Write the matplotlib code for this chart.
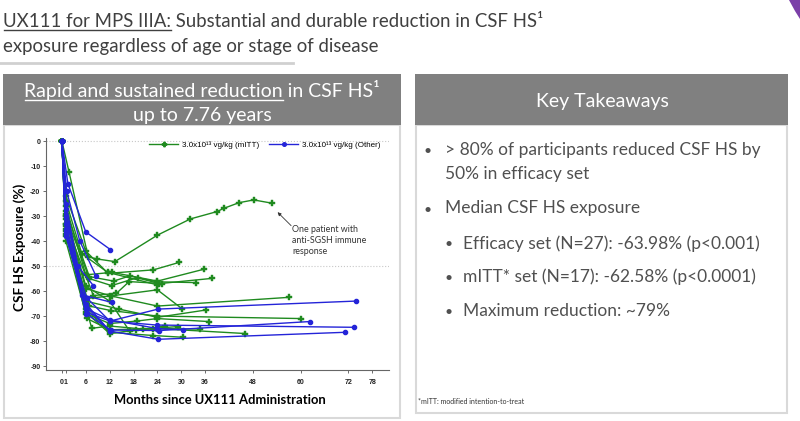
import matplotlib
matplotlib.use("Agg")
import matplotlib.pyplot as plt
from matplotlib.patches import Rectangle, Polygon
from matplotlib.lines import Line2D

W, H = 800, 421

# chart data (months since dosing, % change of CSF HS exposure)
mitt_months = [
    [0, 1.8, 6.6, 8.7, 13.3, 24, 32.3, 38.9, 40.8, 44.5, 48.2, 52.8],
    [0, 1, 6, 11.6, 23, 29.5],
    [0, 1, 6, 12.6, 24, 35.8],
    [0, 1, 6.9, 13, 17.1, 24.5, 37.8],
    [0, 1, 6.9, 12.5, 19, 24, 33.8],
    [0, 1, 7.9, 13.7, 16.9, 25.2],
    [0, 1, 6, 12.5, 24, 57.1],
    [0, 1, 6, 14.3, 24, 36.1],
    [0, 1, 6.9, 12.3, 24, 60.1],
    [0, 1, 6, 12, 18.8, 24, 36.9],
    [0, 1, 6.2, 12, 23, 34.7],
    [0, 1, 7.5, 12, 20.5, 29.2],
    [0, 1, 6, 12, 18.6, 24, 46.1],
    [0, 1, 6, 12, 23, 30.5],
    [0, 1, 6, 12, 24, 30.3],
    [0, 1, 5, 11.5, 24],
    [0, 1, 6, 12, 17, 26],
]
mitt_values = [
    [0, -12.4, -46.3, -47.1, -48.2, -37.6, -31.1, -28.2, -26.8, -24.6, -23.5, -24.8],
    [0, -22, -44, -52.9, -51.5, -48.5],
    [0, -26, -53.5, -52.5, -56, -51.2],
    [0, -28, -54.2, -56, -53.9, -57, -54.9],
    [0, -30, -55, -57.8, -54.6, -56.3, -56.6],
    [0, -33, -61.8, -60.9, -56.2, -57],
    [0, -31, -59, -62, -66, -62.5],
    [0, -37, -64, -67.2, -70.5, -67.6],
    [0, -34, -66, -67.8, -70, -71],
    [0, -40, -69, -73, -72, -71, -72.2],
    [0, -36, -70.9, -75.5, -75, -75.2],
    [0, -38, -74.9, -74, -75.2, -74.2],
    [0, -33, -68.5, -77, -75.6, -75, -77],
    [0, -35, -67, -76.5, -77.8, -78.5],
    [0, -30, -63, -62, -59.5, -67.2],
    [0, -24, -45, -52.5, -57.5],
    [0, -29, -58, -64, -76, -74],
]
other_months = [
    [0, 1.5, 6, 12.2],
    [0, 1.2, 4.5, 8.6],
    [0, 1, 4, 7.9],
    [0, 1, 5, 12.5],
    [0, 1, 6.2, 12.1, 24.2, 73.9],
    [0, 1, 6, 12.3, 24.5, 62.3],
    [0, 1, 6.2, 12, 23.8, 73.5],
    [0, 1, 6, 12, 24.2, 71.2],
    [0, 1, 6, 12, 24, 30.5],
    [0, 1, 6, 12],
]
other_values = [
    [0, -17, -36.3, -43.4],
    [0, -20, -40, -54.1],
    [0, -25, -50, -57.8],
    [0, -27, -61.5, -64.5],
    [0, -33, -68.6, -72, -67.2, -64],
    [0, -35, -69, -75.6, -75.8, -72.2],
    [0, -37, -62.6, -72, -73.6, -74.5],
    [0, -38, -66, -76, -79.3, -76.5],
    [0, -36, -67, -71.5, -75, -75.5],
    [0, -30, -65, -76],
]
xticks = [0, 1, 6, 12, 18, 24, 30, 36, 48, 60, 72, 78]
yticks = [-90, -80, -70, -60, -50, -40, -30, -20, -10, 0]
legend_labels = ["3.0x10¹³ vg/kg (mITT)", "3.0x10¹³ vg/kg (Other)"]
takeaways = [
    "> 80% of participants reduced CSF HS by",
    "50% in efficacy set",
    "Median CSF HS exposure",
    "Efficacy set (N=27): -63.98% (p<0.001)",
    "mITT* set (N=17): -62.58% (p<0.0001)",
    "Maximum reduction: ~79%",
]

GREEN = "#1f8a1f"
BLUE = "#2424d8"
HEAD = "#808080"
DARK = "#404040"
SOFT = "#505050"
FONT = "Lato"

fig = plt.figure(figsize=(W / 100, H / 100), dpi=100)
renderer = fig.canvas.get_renderer()


def fx(x):
    return x / W


def fy(y):
    return 1 - y / H


def box(x0, y0, x1, y1, **kw):
    fig.add_artist(Rectangle((fx(x0), fy(y1)), (x1 - x0) / W, (y1 - y0) / H,
                             transform=fig.transFigure, zorder=0.5, **kw))


def fit(t, target, vertical=False):
    bb = t.get_window_extent(renderer=renderer)
    size = bb.height if vertical else bb.width
    t.set_fontsize(t.get_fontsize() * target / size)
    return t


def text(x, y, s, target=None, vertical=False, **kw):
    kw.setdefault("family", FONT)
    t = fig.text(fx(x), fy(y), s, **kw)
    if target:
        fit(t, target, vertical)
    return t


def underline(t, prefix, baseline, gap=2.5, color=DARK, lw=1.0):
    bb = t.get_window_extent(renderer=renderer)
    tmp = fig.text(0, 0, prefix, fontsize=t.get_fontsize(), family=t.get_fontfamily(),
                   weight=t.get_fontweight())
    w = tmp.get_window_extent(renderer=renderer).width
    tmp.remove()
    x0 = bb.x0 + 1
    fig.add_artist(Line2D([fx(x0), fx(x0 + w - 1)], [fy(baseline + gap)] * 2,
                          transform=fig.transFigure, color=color, lw=lw))


# slide title
t1 = text(3, 27, "UX111 for MPS IIIA: Substantial and durable reduction in CSF HS¹", 542,
          va="baseline", color=DARK, fontsize=16)
underline(t1, "UX111 for MPS IIIA:", 27, gap=3)
text(3, 52, "exposure regardless of age or stage of disease", va="baseline", color=DARK,
     fontsize=t1.get_fontsize())
fig.add_artist(Line2D([0, fx(293)], [fy(63)] * 2, transform=fig.transFigure,
                      color="#d0d0d0", lw=2))

# purple decoration at the corner
fig.add_artist(Polygon([(fx(789), fy(0)), (1, fy(0)), (1, fy(19)), (fx(795), fy(11))],
                       closed=True, transform=fig.transFigure, color="#7b3fa8", lw=0))

# panels
box(4, 125, 400, 418, facecolor="white", edgecolor="#d9d9d9", lw=1.5)
box(3, 74, 401, 125, facecolor=HEAD, edgecolor="none")
box(416, 125, 787, 413, facecolor="white", edgecolor="#d9d9d9", lw=1.5)
box(415, 74, 788, 125, facecolor=HEAD, edgecolor="none")

h1 = text(202, 97, "Rapid and sustained reduction in CSF HS¹", 355, ha="center",
          va="baseline", color="white", fontsize=13)
underline(h1, "Rapid and sustained reduction", 97, gap=2.5, color="white")
text(202, 121, "up to 7.76 years", ha="center", va="baseline", color="white",
     fontsize=h1.get_fontsize())
text(602, 107, "Key Takeaways", ha="center", va="baseline", color="white",
     fontsize=h1.get_fontsize())

# key takeaways
b0 = text(445, 155, takeaways[0], 315, va="baseline", color=SOFT, fontsize=13)
fs = b0.get_fontsize()
rows = [(None, 445, 179.5), (428, 445, 213.5), (449, 463, 248.5), (449, 463, 282),
        (449, 463, 315.5)]
text(428, 155, "•", ha="center", va="baseline", color=SOFT, fontsize=fs * 0.8)
for s, (bx, tx, by) in zip(takeaways[1:], rows):
    if bx is not None:
        text(bx, by, "•", ha="center", va="baseline", color=SOFT, fontsize=fs * 0.8)
    text(tx, by, s, va="baseline", color=SOFT, fontsize=fs)
text(418, 404, "*mITT: modified intention-to-treat", va="baseline", color="#333333",
     fontsize=5)

# chart
ax = fig.add_axes([fx(46), fy(370), 343 / W, 232 / H], zorder=2)
ax.patch.set_alpha(0)
for m, v in zip(mitt_months, mitt_values):
    ax.plot(m, v, color=GREEN, lw=1.0, marker="P", ms=3.8, mec=GREEN, mew=0.3)
for m, v in zip(other_months, other_values):
    ax.plot(m, v, color=BLUE, lw=1.0, marker="o", ms=3.0, mec=BLUE)
ax.axhline(0, color="#c8c8c8", ls=":", lw=0.8, zorder=0)
ax.axhline(-50, color="#c8c8c8", ls=":", lw=0.8, zorder=0)
ax.set_xlim(-4, 82.2)
ax.set_ylim(-91.6, 1.3)
ax.set_xticks(xticks)
ax.set_xticklabels([str(t) for t in xticks])
ax.set_yticks(yticks)
ax.set_yticklabels([str(t) for t in yticks])
ax.tick_params(length=2.5, width=0.6, color="#555555", labelsize=5, pad=1.5,
               labelcolor="#222222")
for lab in ax.get_xticklabels() + ax.get_yticklabels():
    lab.set_family("Liberation Sans")
    lab.set_weight("bold")
ax.tick_params(axis="x", pad=4)
for side in ("top", "right"):
    ax.spines[side].set_visible(False)
for side in ("left", "bottom"):
    ax.spines[side].set_color("#666666")
    ax.spines[side].set_linewidth(0.8)

handles = [Line2D([], [], color=GREEN, lw=1.0, marker="P", ms=3.2),
           Line2D([], [], color=BLUE, lw=1.0, marker="o", ms=2.6)]
ax.legend(handles, legend_labels, ncol=2, frameon=False, loc="upper right",
          bbox_to_anchor=(0.985, 1.0), borderaxespad=0, handlelength=3.6,
          columnspacing=1.2, handletextpad=0.5,
          prop={"family": "Liberation Sans", "size": 5.8})

note = ax.text(57.8, -33.6, "One patient with\nanti-SGSH immune\nresponse", ha="left",
               va="top", family=FONT, color="#333333", fontsize=6, linespacing=1.25)
fit(note, 75)
ax.annotate("", xy=(54.2, -28.4), xytext=(57.6, -33.8),
            arrowprops=dict(arrowstyle="-|>", color="#333333", lw=0.6,
                            mutation_scale=5, shrinkA=0, shrinkB=0))

text(20, 247, "CSF HS Exposure (%)", 127, vertical=True, rotation=90, ha="center",
     va="center", weight="bold", color="black", fontsize=10)
text(220, 400, "Months since UX111 Administration", 211, ha="center", va="center",
     weight="bold", color="black", fontsize=10)

fig.savefig("out.png", dpi=100)
